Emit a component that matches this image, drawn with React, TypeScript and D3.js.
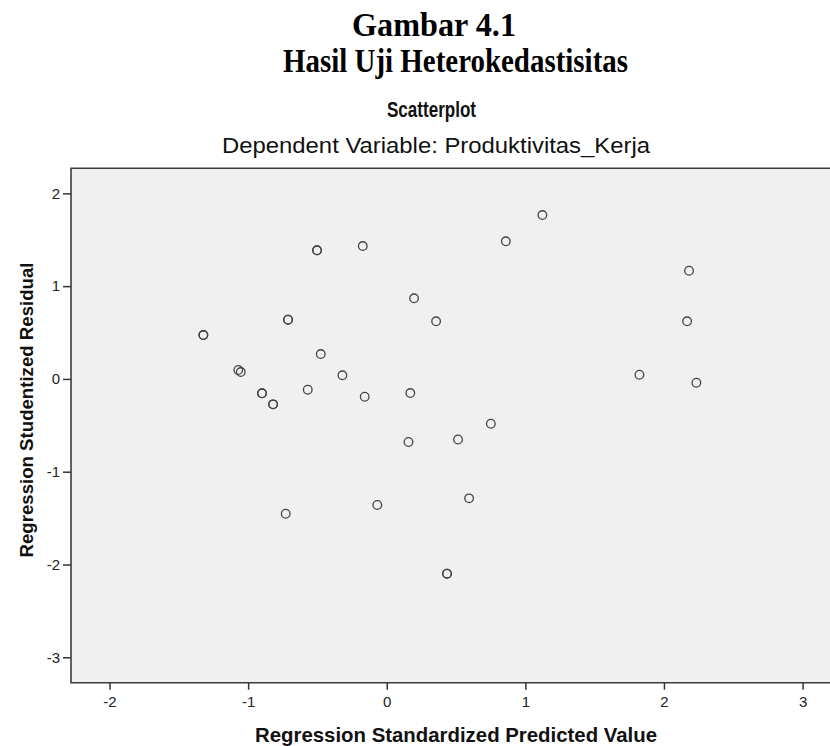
import React, { useEffect, useRef } from 'react';
import * as d3 from 'd3';

// regression standardized predicted value (x) and studentized residual (y)
// repeated pairs are cases that sit on top of each other in the plot
const predicted = [
    -0.503, -0.503, -0.173, 0.197, 0.356, -0.712, -0.712, -1.323, -1.323,
    -0.476, -1.071, -1.053, -0.320, -0.900, -0.900, -0.820, -0.820, -0.570,
    -0.159, 0.170, 0.157, 0.514, 0.751, 1.123, 0.859, 2.181, 2.167, 1.823,
    2.234, 0.594, -0.068, -0.729, 0.435, 0.435,
];
const residual = [
    1.386, 1.386, 1.432, 0.869, 0.621, 0.638, 0.638, 0.473, 0.473,
    0.268, 0.096, 0.074, 0.039, -0.155, -0.155, -0.274, -0.274, -0.116,
    -0.192, -0.152, -0.680, -0.653, -0.483, 1.766, 1.483, 1.166, 0.621, 0.045,
    -0.041, -1.287, -1.359, -1.453, -2.099, -2.099,
];

const xTicks = [-2, -1, 0, 1, 2, 3];
const yTicks = [2, 1, 0, -1, -2, -3];

const figureTitle = 'Gambar 4.1';
const figureSubtitle = 'Hasil Uji Heterokedastisitas';
const chartTitle = 'Scatterplot';
const chartSubtitle = 'Dependent Variable: Produktivitas_Kerja';
const xLabel = 'Regression Standardized Predicted Value';
const yLabel = 'Regression Studentized Residual';

const SANS = '"Liberation Sans", Arial, sans-serif';
const SERIF = '"Liberation Serif", "Times New Roman", serif';

function Scatter() {
    const ref = useRef<SVGSVGElement>(null);

    const width = 830;
    const height = 746;
    const plot = { left: 71, right: 840, top: 168.3, bottom: 682.7 };

    useEffect(() => {
        const svg = d3.select(ref.current);
        svg.selectAll('*').remove();

        const x = d3.scaleLinear().domain([-2.278, 3.27]).range([plot.left, plot.right]);
        const y = d3.scaleLinear().domain([-3.274, 2.27]).range([plot.bottom, plot.top]);

        // headings above the chart (document caption + spss titles)
        svg.append('text')
            .attr('x', 352).attr('y', 36)
            .attr('textLength', 164).attr('lengthAdjust', 'spacingAndGlyphs')
            .style('font-family', SERIF).style('font-weight', 'bold').style('font-size', '34px')
            .text(figureTitle);
        svg.append('text')
            .attr('x', 283).attr('y', 72)
            .attr('textLength', 345).attr('lengthAdjust', 'spacingAndGlyphs')
            .style('font-family', SERIF).style('font-weight', 'bold').style('font-size', '34px')
            .text(figureSubtitle);
        svg.append('text')
            .attr('x', 387).attr('y', 117)
            .attr('textLength', 89).attr('lengthAdjust', 'spacingAndGlyphs')
            .style('font-family', SANS).style('font-weight', 'bold').style('font-size', '22px')
            .style('fill', '#111')
            .text(chartTitle);
        svg.append('text')
            .attr('x', 222).attr('y', 153)
            .attr('textLength', 428).attr('lengthAdjust', 'spacingAndGlyphs')
            .style('font-family', SANS).style('font-size', '22px')
            .style('fill', '#111')
            .text(chartSubtitle);

        // plot background
        svg.append('rect')
            .attr('x', plot.left).attr('y', plot.top)
            .attr('width', plot.right - plot.left).attr('height', plot.bottom - plot.top)
            .style('fill', '#f0f0f0');

        // axes, plain hyphen for negatives like spss
        const fmt = (d) => String(d);
        const yAxis = svg.append('g')
            .attr('transform', `translate(${plot.left},0)`)
            .call(d3.axisLeft(y).tickValues(yTicks).tickSize(8).tickPadding(3).tickFormat(fmt));
        const xAxis = svg.append('g')
            .attr('transform', `translate(0,${plot.bottom})`)
            .call(d3.axisBottom(x).tickValues(xTicks).tickSize(7).tickPadding(7).tickFormat(fmt));

        [yAxis, xAxis].forEach((g) => {
            g.select('.domain').remove();
            g.selectAll('line').style('stroke', '#333').style('stroke-width', 1.5);
            g.selectAll('text')
                .style('font-family', SANS).style('font-size', '15px').style('fill', '#222');
        });

        // frame (left, top, bottom)
        svg.append('path')
            .attr('d', `M${plot.right},${plot.top}H${plot.left}V${plot.bottom}H${plot.right}`)
            .style('fill', 'none').style('stroke', '#3c3c3c').style('stroke-width', 1.6);

        // points
        svg.append('g')
            .selectAll('circle')
            .data(predicted.map((p, i) => [p, residual[i]]))
            .enter()
            .append('circle')
            .attr('cx', (d) => x(d[0]))
            .attr('cy', (d) => y(d[1]))
            .attr('r', 4.3)
            .style('fill', 'none')
            .style('stroke', '#444')
            .style('stroke-width', 1.3);

        // axis titles
        svg.append('text')
            .attr('x', 255).attr('y', 742)
            .attr('textLength', 402).attr('lengthAdjust', 'spacingAndGlyphs')
            .style('font-family', SANS).style('font-weight', 'bold').style('font-size', '20.5px')
            .style('fill', '#111')
            .text(xLabel);
        svg.append('text')
            .attr('transform', 'translate(33,410) rotate(-90)')
            .attr('text-anchor', 'middle')
            .attr('textLength', 295).attr('lengthAdjust', 'spacingAndGlyphs')
            .style('font-family', SANS).style('font-weight', 'bold').style('font-size', '18.5px')
            .style('fill', '#111')
            .text(yLabel);
    }, []);

    return (
        <div style={{ position: 'fixed', left: 0, top: 0, width, height, background: '#fff' }}>
            <svg ref={ref} width={width} height={height} style={{ display: 'block', overflow: 'hidden' }} />
        </div>
    );
}

export default function App() {
    return <Scatter />;
}
